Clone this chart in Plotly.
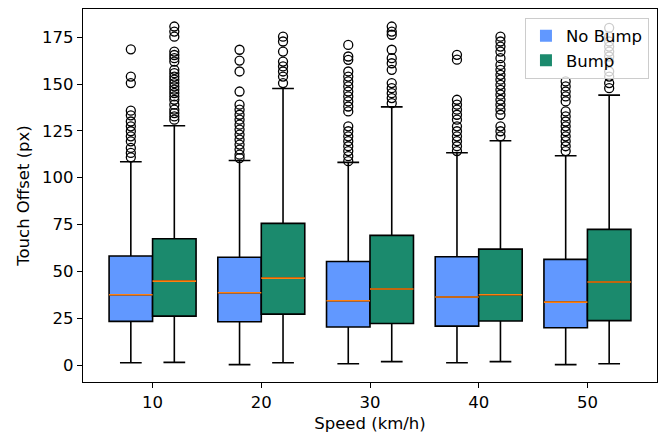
import plotly.graph_objects as go

speeds = [10, 20, 30, 40, 50]
series_names = ["No Bump", "Bump"]
colors = {"No Bump": "#6198FF", "Bump": "#1B8A6D"}

# box statistics per speed
nb_q1 = [23.3, 23.1, 20.3, 20.8, 19.9]
nb_med = [37.5, 38.6, 34.3, 36.3, 33.6]
nb_q3 = [58.2, 57.5, 55.3, 57.8, 56.4]
nb_low = [1.2, 0.2, 0.7, 1.2, 0.2]
nb_high = [108.5, 109.2, 108.2, 113.3, 111.7]

b_q1 = [26.1, 27.2, 22.2, 23.5, 23.7]
b_med = [44.8, 46.4, 40.6, 37.5, 44.3]
b_q3 = [67.4, 75.6, 69.2, 61.9, 72.4]
b_low = [1.4, 1.2, 1.8, 1.8, 0.7]
b_high = [127.7, 147.6, 137.8, 119.7, 144.1]

# outliers
nb_out = [
    [168.5, 154, 150.5, 135.8, 133.3, 130, 127.4, 124.8, 122.1, 119.4, 115.9, 113.2, 110.9],
    [168.3, 162.5, 156.7, 146, 139, 136.3, 133.6, 131, 128.3, 125.7, 123, 120.3, 117.7, 115, 112.3, 110.5],
    [170.9, 164.7, 162.9, 156.7, 154, 151.4, 148.7, 146, 143.4, 140.7, 138, 135.4, 127.4, 124.8, 122.1,
     119.5, 116.8, 114.2, 111.5, 108.8],
    [165.6, 163, 141.6, 139, 136.3, 133.6, 131, 127.4, 124.8, 122.1, 119.5, 116.8, 114.2],
    [151.4, 148.7, 146, 143.4, 140.7, 135.4, 132.7, 130, 127.4, 124.8, 122.1, 119.5, 116.8, 114.2],
]
b_out = [
    [180.7, 178, 175.3, 167.3, 165.5, 163.8, 162, 157.6, 155.8, 154, 152.3, 150.5, 148.7, 147, 145.2,
     143.4, 141.6, 139, 136.3, 134.5, 132.7, 131],
    [175.3, 172.7, 167.3, 162, 159.4, 156.7, 154, 150.5],
    [180.7, 178, 176.3, 168.3, 163.8, 161.1, 157.6, 150.5, 147.8, 145.1, 142.5, 139.8],
    [175.3, 172.7, 170, 167.3, 163.8, 160.2, 157.6, 154.9, 152.3, 149.6, 146.9, 144.3, 141.6, 139,
     136.3, 133.6, 127.4, 124.8, 122.1],
    [180, 175.3, 172.7, 170, 167.3, 164.7, 162, 156.7, 154, 150.5, 147.8],
]

y_ticks = [0, 25, 50, 75, 100, 125, 150, 175]

BOX_W = 4
OFFSET = 2
FONT = "DejaVu Sans"
FS = 16.5

fig = go.Figure()

groups = [
    ("No Bump", -OFFSET, nb_q1, nb_med, nb_q3, nb_low, nb_high, nb_out),
    ("Bump", OFFSET, b_q1, b_med, b_q3, b_low, b_high, b_out),
]

for name, off, q1, med, q3, lo, hi, outs in groups:
    pos = [s + off for s in speeds]
    fig.add_trace(go.Box(
        x=pos, q1=q1, median=med, q3=q3, lowerfence=lo, upperfence=hi,
        width=BOX_W, whiskerwidth=0.5,
        fillcolor=colors[name], line=dict(color="black", width=1.6),
        showlegend=False, hoverinfo="skip", boxpoints=False,
    ))
    # outliers
    ox, oy = [], []
    for p, vals in zip(pos, outs):
        ox += [p] * len(vals)
        oy += vals
    fig.add_trace(go.Scatter(
        x=ox, y=oy, mode="markers", showlegend=False, hoverinfo="skip",
        marker=dict(symbol="circle-open", size=9, color="black", line=dict(width=1.3)),
    ))
    # orange medians
    mx, my = [], []
    for p, m in zip(pos, med):
        mx += [p - BOX_W / 2, p + BOX_W / 2, None]
        my += [m, m, None]
    fig.add_trace(go.Scatter(
        x=mx, y=my, mode="lines", showlegend=False, hoverinfo="skip",
        line=dict(color="#FF7F0E", width=1.6),
    ))

for name in series_names:
    fig.add_trace(go.Bar(
        x=[None], y=[None], name=name, marker=dict(color=colors[name], line=dict(width=0)),
        showlegend=True,
    ))

fig.update_layout(
    width=664, height=437,
    margin=dict(l=83, r=7, t=9, b=55),
    plot_bgcolor="white", paper_bgcolor="white",
    boxmode="overlay",
    font=dict(family=FONT, size=FS, color="black"),
    legend=dict(
        x=0.986, y=0.977, xanchor="right", yanchor="top",
        bgcolor="rgba(255,255,255,0.8)", bordercolor="#cccccc", borderwidth=1,
        font=dict(family=FONT, size=FS, color="black"),
        tracegroupgap=0,
    ),
    xaxis=dict(
        range=[3.6, 56.4], tickmode="array", tickvals=speeds,
        ticktext=[str(s) for s in speeds],
        showgrid=False, zeroline=False, showline=True, linecolor="black", linewidth=1.3,
        mirror=True, ticks="outside", ticklen=5, tickwidth=1.3, tickcolor="black",
        title=dict(text="Speed (km/h)", font=dict(family=FONT, size=FS), standoff=6),
    ),
    yaxis=dict(
        range=[-9.05, 190.05], tickmode="array", tickvals=y_ticks,
        ticktext=[str(t) for t in y_ticks],
        showgrid=False, zeroline=False, showline=True, linecolor="black", linewidth=1.3,
        mirror=True, ticks="outside", ticklen=5, tickwidth=1.3, tickcolor="black",
        title=dict(text="Touch Offset (px)", font=dict(family=FONT, size=FS), standoff=8),
    ),
)

fig.write_html("out.html", config={"displayModeBar": False},
               post_script="document.body.style.margin='0';")
